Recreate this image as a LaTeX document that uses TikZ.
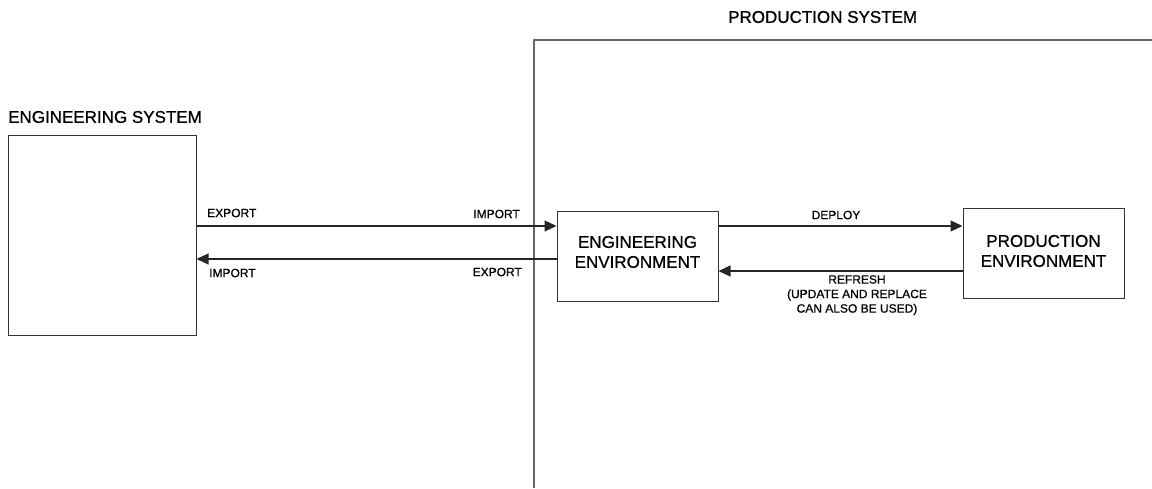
\documentclass[tikz,border=0pt]{standalone}
\usepackage{fontspec}
\setmainfont{Liberation Sans}
\newfontfamily\diagfont{Liberation Sans}[FakeBold=0.8]
\usetikzlibrary{arrows.meta}

\begin{document}
\begin{tikzpicture}[x=1pt, y=-1pt,
    box/.style={draw=black!80, line width=1pt, align=center, inner sep=0pt,
        minimum width=161pt, minimum height=90pt, font=\diagfont\fontsize{17}{20}\selectfont},
    title/.style={anchor=west, inner sep=0pt, font=\diagfont\fontsize{17}{20}\selectfont},
    lbl/.style={inner sep=0pt, align=center, font=\diagfont\fontsize{12}{14.5}\selectfont},
    flow/.style={draw=black!85, line width=1.2pt, -{Triangle[length=12pt, width=11pt]}},
    frame/.style={draw=black!60, line width=1.2pt}]

    % fix the page to the size of the picture
    \useasboundingbox (0,0) rectangle (1152,488);

    % production system frame (top and left edges only)
    \draw[frame] (534,488) -- (534,40) -- (1152,40);

    % headers
    \node[title] (engsys) at (8,117) {ENGINEERING SYSTEM};
    \node[title] (prodsys) at (728,17) {PRODUCTION SYSTEM};

    % boxes, text a little above the middle
    \node[box, minimum width=188pt, minimum height=200pt] (es) at (102,235) {};
    \node[box, label={[box, draw=none, minimum size=0pt, yshift=4pt]center:ENGINEERING\\ENVIRONMENT}] (ee) at (637.5,256) {};
    \node[box, label={[box, draw=none, minimum size=0pt, yshift=2pt]center:PRODUCTION\\ENVIRONMENT}] (pe) at (1043.5,253) {};

    % export / import between the two systems
    \draw[flow] (es.east |- 0,226) -- (ee.west |- 0,226);
    \draw[flow] (ee.west |- 0,259) -- (es.east |- 0,259);
    \node[lbl, anchor=west] (exportl) at (207,213) {EXPORT};
    \node[lbl, anchor=east] (importr) at (520,214) {IMPORT};
    \node[lbl, anchor=west] (importl) at (209,273) {IMPORT};
    \node[lbl, anchor=east] (exportr) at (522,272) {EXPORT};

    % deploy / refresh inside the production system
    \draw[flow] (ee.east |- 0,226) -- (pe.west |- 0,226);
    \draw[flow] (pe.west |- 0,271) -- (ee.east |- 0,271);
    \node[lbl] (deploy) at (836,215) {DEPLOY};
    \node[lbl, anchor=north] (refresh) at (857,275) {REFRESH\\(UPDATE AND REPLACE\\CAN ALSO BE USED)};

\end{tikzpicture}
\end{document}
